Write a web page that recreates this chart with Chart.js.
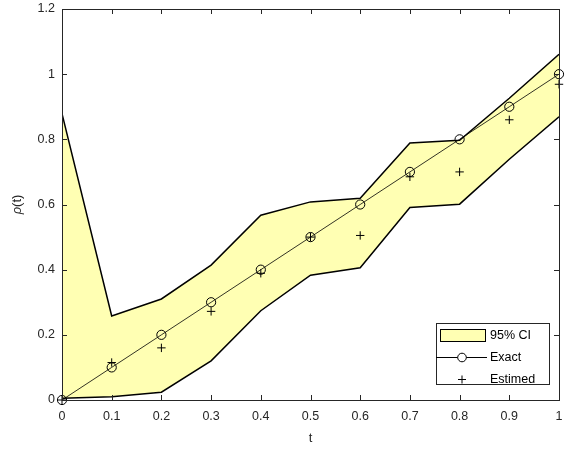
<html>
<head>
<title>Exact vs estimated rho(t)</title>
<style type="text/css">
html, body { margin: 0; padding: 0; background: #fff; }
#wrap { width: 567px; height: 453px; }
</style>
<script src="https://cdn.jsdelivr.net/npm/chart.js"></script>
<script>
// values
const tValues = [0, 0.1, 0.2, 0.3, 0.4, 0.5, 0.6, 0.7, 0.8, 0.9, 1];
const exactValues = [0, 0.1, 0.2, 0.3, 0.4, 0.5, 0.6, 0.7, 0.8, 0.9, 1];
const estimValues = [0, 0.115, 0.16, 0.272, 0.389, 0.5, 0.505, 0.685, 0.70, 0.86, 0.969];
const ciUpper = [0.879, 0.258, 0.31, 0.414, 0.567, 0.608, 0.619, 0.789, 0.797, 0.926, 1.061];
const ciLower = [0.005, 0.01, 0.024, 0.12, 0.274, 0.383, 0.406, 0.591, 0.601, 0.739, 0.869];
const legendLabels = ['95% CI', 'Exact', 'Estimed'];

const AXIS = '#262626';
const BAND = 'rgb(255,255,179)';
const FONT = 'Liberation Sans, Arial, sans-serif';

function pts(ys)
{
	return tValues.map((t, i) => ({ x: t, y: ys[i] }));
}

// box, inside ticks, axis labels and legend (matlab look)
const matlabAxes = {
	id: 'matlabAxes',
	afterDatasetsDraw(chart) {
		const ctx = chart.ctx, a = chart.chartArea;
		const xs = chart.scales.x, ys = chart.scales.y;
		ctx.save();
		ctx.strokeStyle = AXIS;
		ctx.lineWidth = 1;
		ctx.beginPath();
		xs.ticks.forEach((tk) => {
			const px = Math.round(xs.getPixelForValue(tk.value)) + 0.5;
			ctx.moveTo(px, a.bottom); ctx.lineTo(px, a.bottom - 5);
			ctx.moveTo(px, a.top); ctx.lineTo(px, a.top + 5);
		});
		ys.ticks.forEach((tk) => {
			const py = Math.round(ys.getPixelForValue(tk.value)) + 0.5;
			ctx.moveTo(a.left, py); ctx.lineTo(a.left + 5, py);
			ctx.moveTo(a.right, py); ctx.lineTo(a.right - 5, py);
		});
		ctx.stroke();
		ctx.strokeRect(Math.round(a.left) + 0.5, Math.round(a.top) + 0.5,
			Math.round(a.right - a.left), Math.round(a.bottom - a.top));

		// axis labels
		ctx.fillStyle = AXIS;
		ctx.textAlign = 'center';
		ctx.textBaseline = 'middle';
		ctx.font = '13px ' + FONT;
		ctx.fillText('t', (a.left + a.right) / 2, a.bottom + 38);
		ctx.save();
		ctx.translate(17, (a.top + a.bottom) / 2);
		ctx.rotate(-Math.PI / 2);
		ctx.font = 'italic 13px ' + FONT;
		const w1 = ctx.measureText('ρ').width;
		ctx.font = '13px ' + FONT;
		const w2 = ctx.measureText('(t)').width;
		ctx.textAlign = 'left';
		ctx.font = 'italic 13px ' + FONT;
		ctx.fillText('ρ', -(w1 + w2) / 2, 0);
		ctx.font = '13px ' + FONT;
		ctx.fillText('(t)', -(w1 + w2) / 2 + w1, 0);
		ctx.restore();

		// legend
		const bx = a.right - 123, by = a.bottom - 77, bw = 113, bh = 61;
		ctx.fillStyle = '#fff';
		ctx.fillRect(bx, by, bw, bh);
		ctx.strokeStyle = AXIS;
		ctx.strokeRect(bx + 0.5, by + 0.5, bw, bh);
		const rowY = [by + 12, by + 34, by + 56];
		ctx.fillStyle = BAND;
		ctx.fillRect(bx + 4, rowY[0] - 6, 45, 12);
		ctx.strokeStyle = '#000';
		ctx.lineWidth = 1;
		ctx.strokeRect(bx + 4.5, rowY[0] - 5.5, 45, 12);
		ctx.beginPath();
		ctx.moveTo(bx, rowY[1] + 0.5); ctx.lineTo(bx + 51, rowY[1] + 0.5);
		ctx.stroke();
		ctx.fillStyle = '#fff';
		ctx.beginPath();
		ctx.arc(bx + 26, rowY[1] + 0.5, 4.3, 0, Math.PI * 2);
		ctx.fill(); ctx.stroke();
		ctx.beginPath();
		ctx.moveTo(bx + 22, rowY[2] + 0.5); ctx.lineTo(bx + 30, rowY[2] + 0.5);
		ctx.moveTo(bx + 26, rowY[2] - 3.5); ctx.lineTo(bx + 26, rowY[2] + 4.5);
		ctx.stroke();
		ctx.fillStyle = '#000';
		ctx.textAlign = 'left';
		ctx.font = '12.5px ' + FONT;
		legendLabels.forEach((s, i) => ctx.fillText(s, bx + 54, rowY[i] + 1));
		ctx.restore();
	}
};

function load()
{
	const config = {
		type: 'line',
		data: {
			datasets: [
				{
					label: 'Exact',
					data: pts(exactValues),
					borderColor: '#000',
					borderWidth: 0.8,
					pointStyle: 'circle',
					pointRadius: 4.6,
					pointBorderWidth: 1,
					pointBorderColor: '#000',
					pointBackgroundColor: 'rgba(0,0,0,0)',
					clip: false,
					order: 1
				},
				{
					label: 'Estimed',
					data: pts(estimValues),
					showLine: false,
					pointStyle: 'cross',
					pointRadius: 4.2,
					pointBorderWidth: 1,
					pointBorderColor: '#000',
					clip: false,
					order: 0
				},
				{
					label: 'ciLower',
					data: pts(ciLower),
					borderColor: '#000',
					borderWidth: 1.5,
					pointRadius: 0,
					fill: false,
					order: 2
				},
				{
					label: '95% CI',
					data: pts(ciUpper),
					borderColor: '#000',
					borderWidth: 1.5,
					backgroundColor: BAND,
					pointRadius: 0,
					fill: '-1',
					order: 3
				}
			]
		},
		options: {
			responsive: false,
			animation: false,
			events: [],
			layout: { padding: { top: 9, right: 8, left: 0, bottom: 0 } },
			plugins: {
				legend: { display: false },
				tooltip: { enabled: false },
				filler: { propagate: false }
			},
			scales: {
				x: {
					type: 'linear',
					min: 0, max: 1,
					afterFit: (s) => { s.height = 53; s.paddingLeft = 0; s.paddingRight = 0; },
					afterBuildTicks: (s) => { s.ticks = tValues.map((v) => ({ value: v })); },
					grid: { display: false, drawTicks: false },
					border: { display: false },
					ticks: {
						padding: 9,
						color: AXIS,
						font: { family: FONT, size: 12.5 },
						maxRotation: 0,
						callback: (v) => String(Math.round(v * 10) / 10)
					}
				},
				y: {
					type: 'linear',
					min: 0, max: 1.2,
					afterFit: (s) => { s.width = 62; s.paddingTop = 0; s.paddingBottom = 0; },
					grid: { display: false, drawTicks: false },
					border: { display: false },
					ticks: {
						stepSize: 0.2,
						padding: 7,
						color: AXIS,
						font: { family: FONT, size: 12.5 },
						callback: (v) => String(Math.round(v * 10) / 10)
					}
				}
			}
		},
		plugins: [matlabAxes]
	};
	new Chart(document.getElementById('c'), config);
}
</script>
</head>
<body onload='load();'>
<div id='wrap'><canvas id='c' width='567' height='453'></canvas></div>
</body>
</html>
